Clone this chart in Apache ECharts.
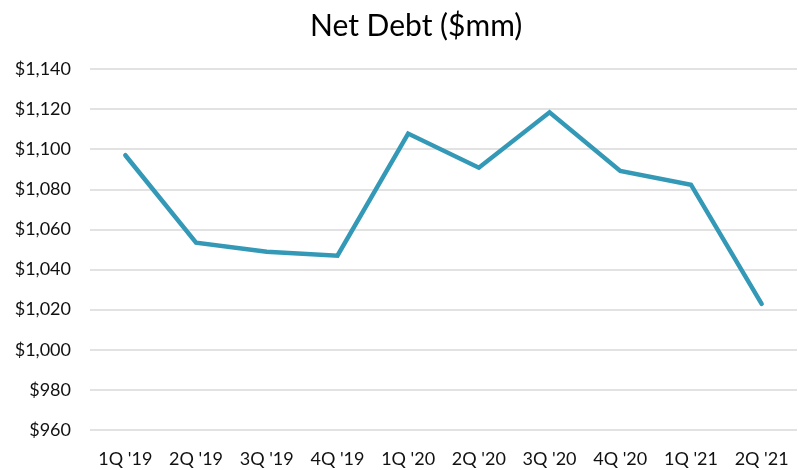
<!DOCTYPE html>
<html><head><meta charset="utf-8">
<script src="https://cdn.jsdelivr.net/npm/echarts@6/dist/echarts.min.js"></script>
<style>html,body{margin:0;padding:0;background:#fff}#c{width:798px;height:470px}</style>
</head><body><div id="c"></div>
<script>
const categories = ["1Q '19","2Q '19","3Q '19","4Q '19","1Q '20","2Q '20","3Q '20","4Q '20","1Q '21","2Q '21"];
const netDebt = [1097, 1053.4, 1048.9, 1046.9, 1107.8, 1090.8, 1118.4, 1089.2, 1082.3, 1022.9];
const title = "Net Debt ($mm)";
const chart = echarts.init(document.getElementById('c'));
chart.setOption({
  animation: false,
  title: { text: title, left: 305, top: 6, textStyle: { fontFamily: 'Lato', fontSize: 30, fontWeight: 'normal', color: '#000' } },
  grid: { left: 90, right: 1, top: 69, bottom: 40, containLabel: false },
  xAxis: {
    type: 'category', data: categories, boundaryGap: true,
    axisLine: { show: false }, axisTick: { show: false },
    axisLabel: { fontFamily: 'Lato', fontSize: 18, color: '#111', margin: 20, interval: 0 }
  },
  yAxis: {
    type: 'value', min: 960, max: 1140, interval: 20,
    axisLine: { show: false }, axisTick: { show: false },
    axisLabel: { fontFamily: 'Lato', fontSize: 18, color: '#111', margin: 19,
      formatter: v => '$' + v.toLocaleString('en-US') },
    splitLine: { lineStyle: { color: '#d9d9d9', width: 1.5 } }
  },
  series: [{ type: 'line', data: netDebt, symbol: 'none', lineStyle: { color: '#3399b6', width: 4.5, cap: 'round', join: 'miter' } }]
});
</script></body></html>
